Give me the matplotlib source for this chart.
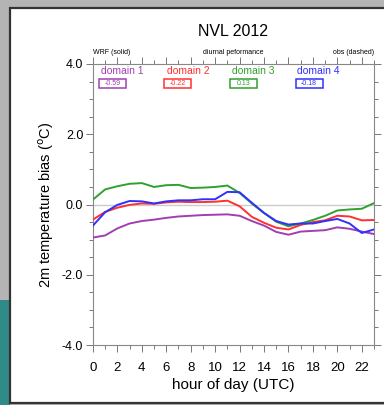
import matplotlib
matplotlib.use("Agg")
import matplotlib.pyplot as plt
from matplotlib.patches import Rectangle
from matplotlib.ticker import MultipleLocator

plt.rcParams['font.family'] = ['Liberation Sans', 'DejaVu Sans']

hours = list(range(24))

# 2m temperature bias per domain
domain1 = [-0.94, -0.88, -0.68, -0.54, -0.47, -0.43, -0.38, -0.34, -0.32, -0.30, -0.29, -0.28,
           -0.32, -0.47, -0.60, -0.78, -0.86, -0.77, -0.75, -0.73, -0.65, -0.69, -0.77, -0.84]
domain2 = [-0.43, -0.21, -0.09, -0.01, 0.03, 0.02, 0.06, 0.08, 0.07, 0.07, 0.08, 0.11,
           -0.05, -0.35, -0.52, -0.66, -0.71, -0.58, -0.50, -0.45, -0.32, -0.34, -0.45, -0.44]
domain3 = [0.14, 0.43, 0.52, 0.59, 0.61, 0.50, 0.55, 0.56, 0.47, 0.48, 0.50, 0.54,
           0.33, 0.03, -0.24, -0.49, -0.62, -0.54, -0.44, -0.32, -0.17, -0.14, -0.12, 0.04]
domain4 = [-0.60, -0.22, -0.01, 0.10, 0.09, 0.03, 0.09, 0.12, 0.12, 0.15, 0.15, 0.36,
           0.35, 0.05, -0.24, -0.47, -0.57, -0.54, -0.54, -0.47, -0.41, -0.54, -0.81, -0.71]

names = ['domain 1', 'domain 2', 'domain 3', 'domain 4']
means = ['-0.59', '-0.22', '0.13', '-0.18']
colors = ['#a040b0', '#ff3030', '#30a030', '#3030ff']
series = [domain1, domain2, domain3, domain4]

fig = plt.figure(figsize=(3.84, 4.05), dpi=100)
fig.patch.set_facecolor('#b4b4b4')

# screenshot background bits
fig.patches.append(Rectangle((0, 0), 0.026, 1 - 300 / 405, transform=fig.transFigure,
                             facecolor='#2f8a88', edgecolor='none', zorder=-2))
fig.patches.append(Rectangle((0.026, 0.005), 1.0, 0.975, transform=fig.transFigure,
                             facecolor='white', edgecolor='#333333', linewidth=1.6, zorder=-1))

ax = fig.add_axes([0.242, 0.148, 0.732, 0.694])
ax.set_zorder(2)
ax.set_facecolor('white')

ax.axhline(0, color='#cccccc', linewidth=1.0, zorder=1)
for vals, c in zip(series, colors):
    ax.plot(hours, vals, color=c, linewidth=1.4, zorder=3)

ax.set_xlim(0, 23)
ax.set_ylim(-4, 4)
ax.xaxis.set_major_locator(MultipleLocator(2))
ax.xaxis.set_minor_locator(MultipleLocator(1))
ax.yaxis.set_major_locator(MultipleLocator(2))
ax.yaxis.set_minor_locator(MultipleLocator(0.5))
ax.yaxis.set_major_formatter(plt.FuncFormatter(lambda v, p: f'{v:.1f}'))

for s in ax.spines.values():
    s.set_color('#888888')
    s.set_linewidth(0.8)
ax.tick_params(which='both', direction='out', colors='#777777', labelcolor='black',
               top=True, right=True, width=0.7)
ax.tick_params(which='major', length=5)
ax.tick_params(which='minor', length=3)
ax.tick_params(axis='x', labelsize=9.5, pad=7)
ax.tick_params(axis='y', labelsize=9, pad=2)

ax.set_xlabel('hour of day (UTC)', fontsize=11, labelpad=3)
ax.set_ylabel(r'2m temperature bias ($^{\rm o}$C)', fontsize=10.5, labelpad=4)

fig.text(0.607, 0.922, 'NVL 2012', ha='center', va='center', fontsize=11.5, zorder=3)
ax.text(0.0, 1.03, 'WRF (solid)', transform=ax.transAxes, ha='left', va='bottom', fontsize=5)
ax.text(0.5, 1.03, 'diurnal peformance', transform=ax.transAxes, ha='center', va='bottom', fontsize=5)
ax.text(1.0, 1.03, 'obs (dashed)', transform=ax.transAxes, ha='right', va='bottom', fontsize=5)

text_x = [0.103, 0.338, 0.569, 0.800]
box_x = [0.071, 0.302, 0.537, 0.769]
box_w, box_h = 0.096, 0.032
for n, m, c, tx, bx in zip(names, means, colors, text_x, box_x):
    ax.text(tx, 0.975, n, transform=ax.transAxes, ha='center', va='center',
            fontsize=7.5, color=c)
    ax.add_patch(Rectangle((bx - box_w / 2, 0.932 - box_h / 2), box_w, box_h,
                           transform=ax.transAxes, facecolor='white', edgecolor=c,
                           linewidth=1.1, zorder=4))
    ax.text(bx, 0.932, m, transform=ax.transAxes, ha='center', va='center',
            fontsize=5, color=c, zorder=5)

fig.savefig('out.png', dpi=100, facecolor=fig.get_facecolor())
